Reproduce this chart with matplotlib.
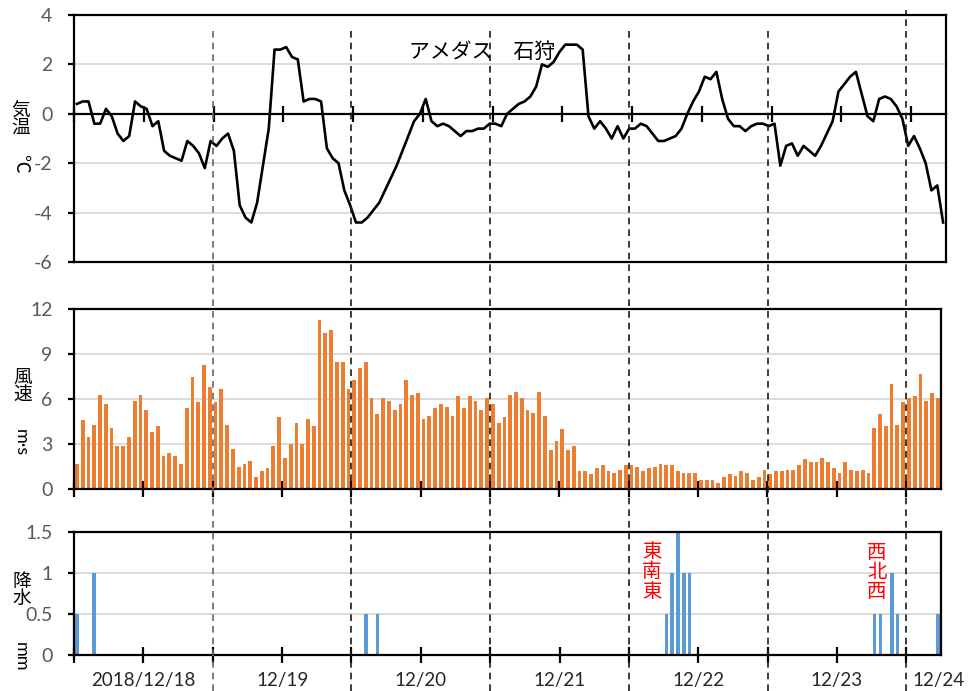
import numpy as np
import matplotlib.pyplot as plt
from matplotlib import transforms
from matplotlib.lines import Line2D

plt.rcParams['font.family'] = ['Lato', 'Noto Sans CJK JP', 'DejaVu Sans']
plt.rcParams['axes.unicode_minus'] = False

# hourly data, 150 hours starting 2018/12/18 00:00
temp = [0.4, 0.5, 0.5, -0.4, -0.4, 0.2, -0.1, -0.8, -1.1, -0.9,
        0.5, 0.3, 0.2, -0.5, -0.3, -1.5, -1.7, -1.8, -1.9, -1.1,
        -1.3, -1.6, -2.2, -1.1, -1.3, -1.0, -0.8, -1.5, -3.7, -4.2,
        -4.4, -3.6, -2.1, -0.6, 2.6, 2.6, 2.7, 2.3, 2.2, 0.5,
        0.6, 0.6, 0.5, -1.4, -1.8, -2.0, -3.1, -3.7, -4.4, -4.4,
        -4.2, -3.9, -3.6, -3.1, -2.6, -2.1, -1.5, -0.9, -0.3, 0.0,
        0.6, -0.3, -0.5, -0.4, -0.5, -0.7, -0.9, -0.7, -0.7, -0.6,
        -0.6, -0.4, -0.4, -0.5, 0.0, 0.2, 0.4, 0.5, 0.7, 1.1,
        2.0, 1.9, 2.1, 2.5, 2.8, 2.8, 2.8, 2.6, -0.1, -0.6,
        -0.3, -0.6, -1.0, -0.5, -1.0, -0.6, -0.6, -0.4, -0.5, -0.8,
        -1.1, -1.1, -1.0, -0.9, -0.6, 0.0, 0.5, 0.9, 1.5, 1.4,
        1.7, 0.6, -0.2, -0.5, -0.5, -0.7, -0.5, -0.4, -0.4, -0.5,
        -0.4, -2.1, -1.3, -1.2, -1.7, -1.3, -1.5, -1.7, -1.3, -0.8,
        -0.3, 0.9, 1.2, 1.5, 1.7, 0.8, -0.1, -0.3, 0.6, 0.7,
        0.6, 0.3, -0.2, -1.3, -0.9, -1.4, -2.0, -3.1, -2.9, -4.4]

wind = [1.7, 4.6, 3.5, 4.3, 6.3, 5.7, 4.1, 2.9, 2.9, 3.5,
        5.9, 6.3, 5.3, 3.8, 4.2, 2.2, 2.4, 2.2, 1.7, 5.4,
        7.5, 5.8, 8.3, 6.8, 5.8, 6.7, 4.3, 2.7, 1.5, 1.7,
        1.9, 0.8, 1.2, 1.4, 2.9, 4.8, 2.1, 3.0, 4.4, 3.0,
        4.7, 4.2, 11.3, 10.4, 10.6, 8.5, 8.5, 6.7, 7.3, 8.1,
        8.5, 6.1, 5.0, 6.1, 5.9, 5.3, 5.7, 7.3, 6.3, 6.4,
        4.7, 4.9, 5.4, 5.7, 5.5, 4.9, 6.2, 5.4, 6.2, 5.9,
        5.3, 6.1, 5.7, 4.4, 4.8, 6.3, 6.5, 6.1, 5.3, 5.1,
        6.5, 4.9, 2.6, 3.2, 4.0, 2.6, 2.9, 1.2, 1.2, 1.0,
        1.4, 1.6, 1.2, 1.1, 1.3, 1.6, 1.6, 1.5, 1.2, 1.4,
        1.5, 1.7, 1.6, 1.6, 1.2, 1.1, 1.1, 1.1, 0.6, 0.6,
        0.6, 0.4, 0.8, 1.0, 0.9, 1.2, 1.1, 0.6, 0.8, 1.3,
        1.0, 1.2, 1.2, 1.3, 1.3, 1.6, 2.0, 1.8, 1.8, 2.1,
        1.8, 1.4, 1.1, 1.8, 1.3, 1.2, 1.3, 1.1, 4.1, 5.0,
        4.2, 7.0, 4.3, 5.8, 6.1, 6.2, 7.7, 5.9, 6.4, 6.1]

# precipitation (hour index, mm)
rain_hour = [0, 3, 50, 52, 102, 103, 104, 105, 106, 138, 139, 141, 142, 149]
rain_mm = [0.5, 1.0, 0.5, 0.5, 0.5, 1.0, 1.5, 1.0, 1.0, 0.5, 0.5, 1.0, 0.5, 0.5]

day_labels = ['2018/12/18', '12/19', '12/20', '12/21', '12/22', '12/23', '12/24']

hours = np.arange(len(temp)) + 0.5
W, H = 968, 691


def px(x, y):
    return x / W, 1 - y / H


fig = plt.figure(figsize=(9.68, 6.91), dpi=100)
ax1 = fig.add_axes([74 / W, 1 - 262 / H, 872 / W, 247 / H])
ax2 = fig.add_axes([74 / W, 1 - 489.3 / H, 866.7 / W, 180 / H])
ax3 = fig.add_axes([74 / W, 1 - 655 / H, 867 / W, 122.7 / H])

grid_c = '#d9d9d9'
for ax in (ax1, ax2, ax3):
    ax.set_xlim(0, 150)
    ax.set_axisbelow(True)
    ax.yaxis.grid(True, color=grid_c, lw=1.3)
    for s in ax.spines.values():
        s.set_color('black')
        s.set_linewidth(1.6)
    ax.set_xticks(np.arange(0, 151, 12))
    ax.tick_params(axis='x', direction='inout', length=11, width=1.6, color='black')
    ax.tick_params(axis='y', direction='out', length=4.5, width=1.6, color='black',
                   labelsize=14, labelcolor='#595959', pad=11)

# temperature
ax1.plot(hours, temp, color='black', lw=1.9)
ax1.set_ylim(-6, 4)
ax1.set_yticks(np.arange(-6, 5, 2))
ax1.set_xticklabels([])
ax1.spines['bottom'].set_position(('data', 0))
ax1.axhline(-6, color='black', lw=1.6, clip_on=False)
fig.text(*px(482, 52), 'アメダス　石狩', fontsize=15, ha='center', va='center')

# wind
ax2.bar(hours, wind, width=0.65, color='#ED7D31')
ax2.set_ylim(0, 12)
ax2.set_yticks(np.arange(0, 13, 3))
ax2.set_xticklabels([])

# precipitation
ax3.bar(np.array(rain_hour) + 0.5, rain_mm, width=0.6, color='#5B9BD5')
ax3.set_ylim(0, 1.5)
ax3.set_yticks([0, 0.5, 1, 1.5])
ax3.set_yticklabels(['0', '0.5', '1', '1.5'])
xlabels = []
for k in range(13):
    xlabels.append(day_labels[k // 2] if k % 2 == 1 else '')
ax3.set_xticklabels(xlabels)
ax3.tick_params(axis='x', labelsize=13.5, labelcolor='#262626', pad=7)
ax3.annotate(day_labels[-1], xy=(150, 0), xycoords=('data', 'axes fraction'),
             xytext=(-2, -18.5), textcoords='offset points', ha='center', va='center',
             fontsize=13.5, color='#262626', annotation_clip=False)

# axis titles
fig.text(*px(21, 119), '気\n温', fontsize=13.5, ha='center', va='center', linespacing=1.0)
fig.text(*px(21, 163), '℃', fontsize=13.5, ha='center', va='center', rotation=-90)
fig.text(*px(23, 386), '風\n速', fontsize=13.5, ha='center', va='center', linespacing=1.05)
fig.text(*px(21, 443), 'm·s', fontsize=13, ha='center', va='center', rotation=-90)
fig.text(*px(22, 590), '降\n水', fontsize=13.5, ha='center', va='center', linespacing=1.0)
fig.text(*px(21, 657), 'mm', fontsize=13, ha='center', va='center', rotation=-90)

# wind direction notes
fig.text(*px(652, 571), '東\n南\n東', fontsize=14, color='red', ha='center', va='center',
         linespacing=1.15)
fig.text(*px(877, 572), '西\n北\n西', fontsize=14, color='red', ha='center', va='center',
         linespacing=1.15)

# dashed day separators across all panels
trans = transforms.blended_transform_factory(ax3.transData, fig.transFigure)
for k, h in enumerate(range(24, 150, 24)):
    top = 1 - 10 / H if k == 5 else 1 - 27 / H
    c = '#666666' if k == 0 else '#1a1a1a'
    fig.add_artist(Line2D([h, h], [0, top], transform=trans, color=c, lw=1.2,
                          ls=(0, (4, 3))))

fig.savefig('out.png', dpi=100)
